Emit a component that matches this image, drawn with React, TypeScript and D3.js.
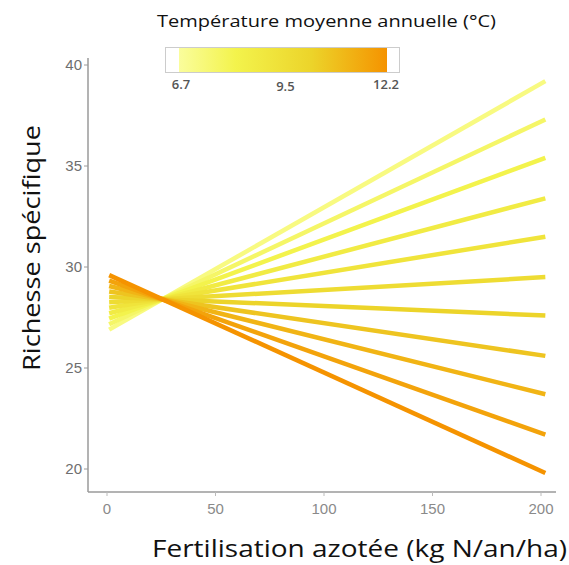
import React from "react";
import * as d3 from "d3";

const lineTemps = [7.2, 7.7, 8.2, 8.7, 9.2, 9.7, 10.2, 10.7, 11.2, 11.7, 12.2];
const startValues = [26.9, 27.17, 27.44, 27.71, 27.98, 28.25, 28.52, 28.79, 29.06, 29.33, 29.6];
const endValues = [39.2, 37.3, 35.4, 33.4, 31.5, 29.5, 27.6, 25.6, 23.7, 21.7, 19.8];
const xStart = 1;
const xEnd = 202;
const xTicks = [0, 50, 100, 150, 200];
const yTicks = [20, 25, 30, 35, 40];
const legendTicks = [6.7, 9.5, 12.2];
const colorDomain = [6.7, 8.2, 10.2, 12.2];
const colorRange = ["#fafd9c", "#f3f34c", "#ecd42a", "#f59300"];

export default function App() {
  const W = 569, H = 565;
  const x = d3.scaleLinear().domain([0, 200]).range([107, 541]);
  const y = d3.scaleLinear().domain([20, 40]).range([469, 65]);
  const color = d3.scaleLinear<string>().domain(colorDomain).range(colorRange).interpolate(d3.interpolateRgb);
  const lg = d3.scaleLinear().domain([6.7, 12.2]).range([181, 386]);
  const line = d3.line<[number, number]>().x(d => x(d[0])).y(d => y(d[1]));
  const sans = "'Open Sans', 'Liberation Sans', sans-serif";
  const axisFont = "'Liberation Sans', Arial, sans-serif";

  return (
    <svg width={W} height={H} style={{ position: "absolute", left: 0, top: 0, background: "#fff" }}>
      <defs>
        <linearGradient id="tempGrad" x1="0" x2="1" y1="0" y2="0">
          {colorDomain.map((t, i) => (
            <stop key={i} offset={(t - 6.7) / (12.2 - 6.7)} stopColor={colorRange[i]} />
          ))}
        </linearGradient>
      </defs>
      <rect width={W} height={H} fill="#fff" />
      {/* axes */}
      <line x1={88} x2={88} y1={58} y2={492} stroke="#9a9a9a" strokeWidth={1.5} />
      <line x1={88} x2={556} y1={492} y2={492} stroke="#9a9a9a" strokeWidth={1.5} />
      {yTicks.map(t => (
        <g key={t}>
          <line x1={84} x2={88} y1={y(t)} y2={y(t)} stroke="#9a9a9a" strokeWidth={1} />
          <text x={82} y={y(t)} dy="0.36em" textAnchor="end" fontFamily={axisFont} fontSize={15} fill="#6e6e6e">{t}</text>
        </g>
      ))}
      {xTicks.map(t => (
        <g key={t}>
          <line x1={x(t)} x2={x(t)} y1={492} y2={496} stroke="#bbbbbb" strokeWidth={1} />
          <text x={x(t)} y={514} textAnchor="middle" fontFamily={axisFont} fontSize={15} fill="#8a8a8a">{t}</text>
        </g>
      ))}
      {/* lines */}
      {lineTemps.map((t, i) => (
        <path key={i} d={line([[xStart, startValues[i]], [xEnd, endValues[i]]]) || ""} stroke={color(t)} strokeWidth={4.5} fill="none" />
      ))}
      {/* axis titles */}
      <text x={152} y={557} fontFamily={sans} fontSize={24} fill="#111" textLength={415} lengthAdjust="spacingAndGlyphs">Fertilisation azotée (kg N/an/ha)</text>
      <text transform="translate(40,248) rotate(-90)" textAnchor="middle" fontFamily={sans} fontSize={24} fill="#111" textLength={246} lengthAdjust="spacingAndGlyphs">Richesse spécifique</text>
      {/* legend */}
      <text x={157} y={27} fontFamily={sans} fontSize={17} fill="#111" textLength={339} lengthAdjust="spacingAndGlyphs">Température moyenne annuelle (°C)</text>
      <rect x={165.5} y={47.5} width={234} height={25} fill="#fff" stroke="#cccccc" strokeWidth={1} />
      <rect x={179} y={48} width={208} height={24} fill="url(#tempGrad)" />
      {legendTicks.map((t, i) => (
        <text key={t} x={lg(t)} y={i === 1 ? 91 : 89} textAnchor="middle" fontFamily={sans} fontSize={13} fontWeight={600} fill="#555">{t}</text>
      ))}
    </svg>
  );
}
